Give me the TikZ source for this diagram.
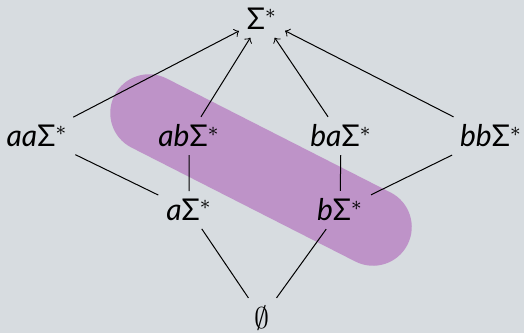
\documentclass[tikz,border=0pt]{standalone}
\usepackage{fontspec}
\setmainfont{Lato}
\definecolor{slidebg}{RGB}{215,220,224}
\definecolor{blob}{RGB}{190,147,200}
\newcommand{\starlang}[1]{{\itshape #1}Σ$^{*}$}
\tikzset{
  lang/.style={inner sep=3pt, font=\large},
  sub/.style={->, >=to, line width=0.4pt}
}
\begin{document}
\begin{tikzpicture}[x=0.4pt, y=-0.4pt]
% background
\fill[slidebg] (0,0) rectangle (524,333);
\useasboundingbox (0,0) rectangle (524,333);
% highlighted pair
\draw[blob, line width=31pt, line cap=round] (149,113) -- (373,227);
% languages
\node[lang] (top) at (262,19) {Σ$^{*}$};
\node[lang] (aa) at (37,136) {\starlang{aa}};
\node[lang] (ab) at (189,136) {\starlang{ab}};
\node[lang] (ba) at (341,136) {\starlang{ba}};
\node[lang] (bb) at (491,136) {\starlang{bb}};
\node[lang] (a) at (189,210) {\starlang{a}};
\node[lang] (b) at (340,210) {\starlang{b}};
\node[lang] (empty) at (262,318) {$\emptyset$};
% order
\draw[sub] (aa) -- (top);
\draw[sub] (ab) -- (top);
\draw[sub] (ba) -- (top);
\draw[sub] (bb) -- (top);
\draw (a) -- (aa) (a) -- (ab);
\draw (b) -- (ba) (b) -- (bb);
\draw (empty) -- (a) (empty) -- (b);
\end{tikzpicture}
\end{document}
